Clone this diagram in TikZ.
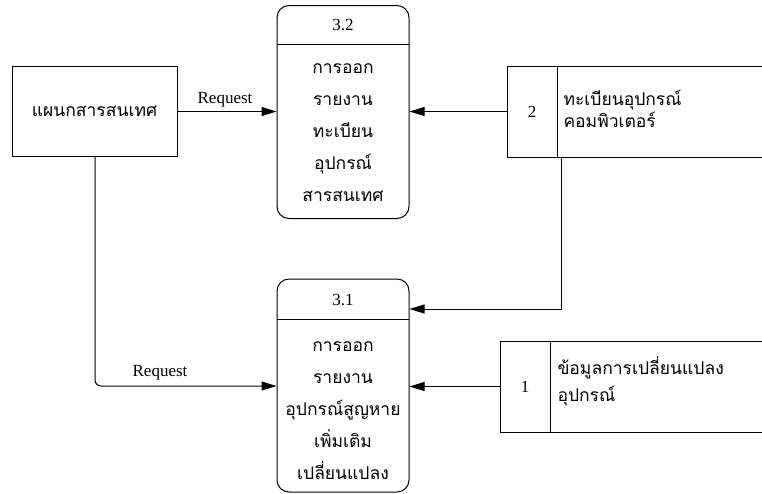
\documentclass[tikz,border=0pt]{standalone}
\usepackage{fontspec}
\setmainfont{Liberation Serif}
\newfontfamily\thai[Script=Thai]{Loma}
\usetikzlibrary{arrows.meta}
\begin{document}
\begin{tikzpicture}[x=1pt,y=-1pt,line width=1pt,
  arr/.style={-{Triangle[length=15pt,width=9pt]}},
  proc/.style={draw,rounded corners=12pt,minimum width=132pt,minimum height=213pt,inner sep=0pt},
  ptxt/.style={align=center,inner sep=0pt,font=\thai\fontsize{17.5}{32}\selectfont},
  hdr/.style={inner sep=0pt,font=\fontsize{17}{18}\selectfont},
  lbl/.style={inner sep=0pt,font=\fontsize{17}{18}\selectfont},
  stxt/.style={align=left,anchor=west,inner sep=0pt},
  hidden/.style={inner sep=0pt,outer sep=0pt}]
\useasboundingbox (0,0) rectangle (762,493);
% entity
\node[draw,minimum width=165pt,minimum height=90pt,inner sep=0pt,font=\thai\fontsize{17.5}{18}\selectfont] (ent) at (94.5,111.5) {แผนกสารสนเทศ};
% process 3.2
\node[proc] (p32) at (343,112) {};
\coordinate (p32l) at (277,44);
\coordinate (p32r) at (409,44);
\draw (p32l) -- (p32r);
\node[hdr] (h32) at (343,25) {3.2};
\node[ptxt] (t32) at (343,133) {การออก\\รายงาน\\ทะเบียน\\อุปกรณ์\\สารสนเทศ};
% process 3.1
\node[proc] (p31) at (343,385.5) {};
\coordinate (p31l) at (277,319);
\coordinate (p31r) at (409,319);
\draw (p31l) -- (p31r);
\node[hdr] (h31) at (343,300) {3.1};
\node[ptxt] (t31) at (343,411) {การออก\\รายงาน\\อุปกรณ์สูญหาย\\เพิ่มเติม\\เปลี่ยนแปลง};
% store 2
\node[hidden,minimum width=255pt,minimum height=91pt] (s2) at (634.5,111.5) {};
\draw (s2.north east) -- (s2.north west) -- (s2.south west) -- (s2.south east);
\coordinate (s2a) at (557,66);
\coordinate (s2b) at (557,157);
\draw (s2a) -- (s2b);
\node[hdr] (d2) at (532,112) {2};
\node[stxt,font=\thai\fontsize{17.5}{22}\selectfont] (n2) at (563,109) {ทะเบียนอุปกรณ์\\คอมพิวเตอร์};
% store 1
\node[hidden,minimum width=262pt,minimum height=91pt] (s1) at (631,386.5) {};
\draw (s1.north east) -- (s1.north west) -- (s1.south west) -- (s1.south east);
\coordinate (s1a) at (550,341);
\coordinate (s1b) at (550,432);
\draw (s1a) -- (s1b);
\node[hdr] (d1) at (525,387) {1};
\node[stxt,font=\thai\fontsize{17.5}{27}\selectfont] (n1) at (557,381) {ข้อมูลการเปลี่ยนแปลง\\อุปกรณ์};
% connectors
\draw[arr] (ent.east) -- (ent.east -| p32.west);
\node[lbl] (r1) at (225,100) {Request};
\draw[arr] (s2.west) -- (s2.west -| p32.east);
\coordinate (c2) at (561,157);
\coordinate (c2b) at (561,309);
\draw[arr] (c2) -- (c2b) -- (c2b -| p31.east);
\draw[arr] (s1.west) -- (s1.west -| p31.east);
\coordinate (e1) at (95,157);
\coordinate (e2) at (95,386);
\draw[arr,rounded corners=6pt] (e1) -- (e2) -- (e2 -| p31.west);
\node[lbl] (r2) at (160,373) {Request};
\end{tikzpicture}
\end{document}
